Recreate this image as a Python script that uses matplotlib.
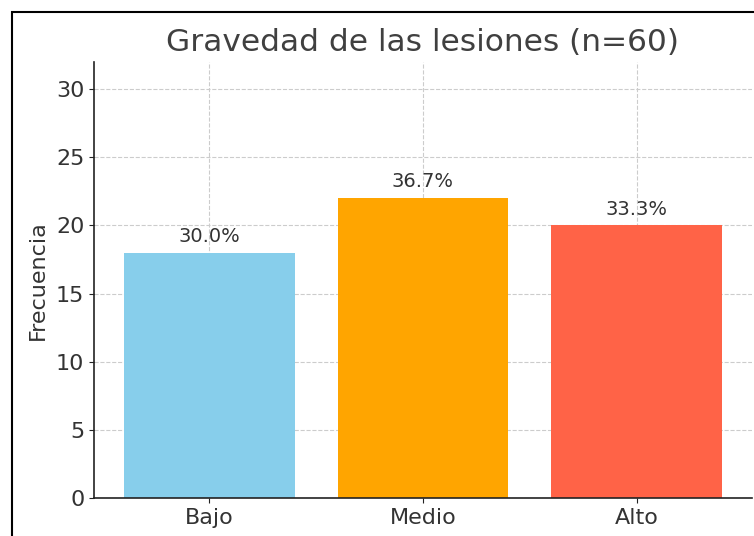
import matplotlib
matplotlib.use("Agg")
import matplotlib.pyplot as plt
from matplotlib.patches import Rectangle

categories = ["Bajo", "Medio", "Alto"]
counts = [18, 22, 20]
total = 60
colors = ["skyblue", "orange", "tomato"]

text_color = "#333333"

fig = plt.figure(figsize=(7.54, 5.36), dpi=100)
ax = fig.add_axes([94 / 754, 1 - 498 / 536, (752 - 94) / 754, (498 - 62) / 536])

bars = ax.bar(categories, counts, color=colors, width=0.8, zorder=2)
for b, c in zip(bars, counts):
    ax.text(b.get_x() + b.get_width() / 2, c + 0.5, "%.1f%%" % (c / total * 100),
            ha="center", va="bottom", fontsize=14, color=text_color, zorder=3)

ax.set_ylim(0, 32)
ax.set_yticks(range(0, 31, 5))
ax.grid(True, linestyle="--", color="#cccccc", linewidth=0.8, zorder=0)
ax.set_axisbelow(True)
ax.spines["top"].set_visible(False)
ax.spines["right"].set_visible(False)
for s in ("left", "bottom"):
    ax.spines[s].set_color("#222222")
    ax.spines[s].set_linewidth(1.2)
ax.tick_params(labelsize=16, colors="#222222", labelcolor=text_color)
ax.set_ylabel("Frecuencia", fontsize=16, color=text_color, labelpad=6)
ax.set_title("Gravedad de las lesiones (n=60)", fontsize=22.5, color="#404040", pad=8)

# screenshot frame
fig.patches.append(Rectangle((12 / 754, -0.1), 1.2, 1 - 12 / 536 + 0.1,
                             transform=fig.transFigure, fill=False,
                             edgecolor="black", linewidth=1.5))

fig.savefig("out.png", dpi=100)
